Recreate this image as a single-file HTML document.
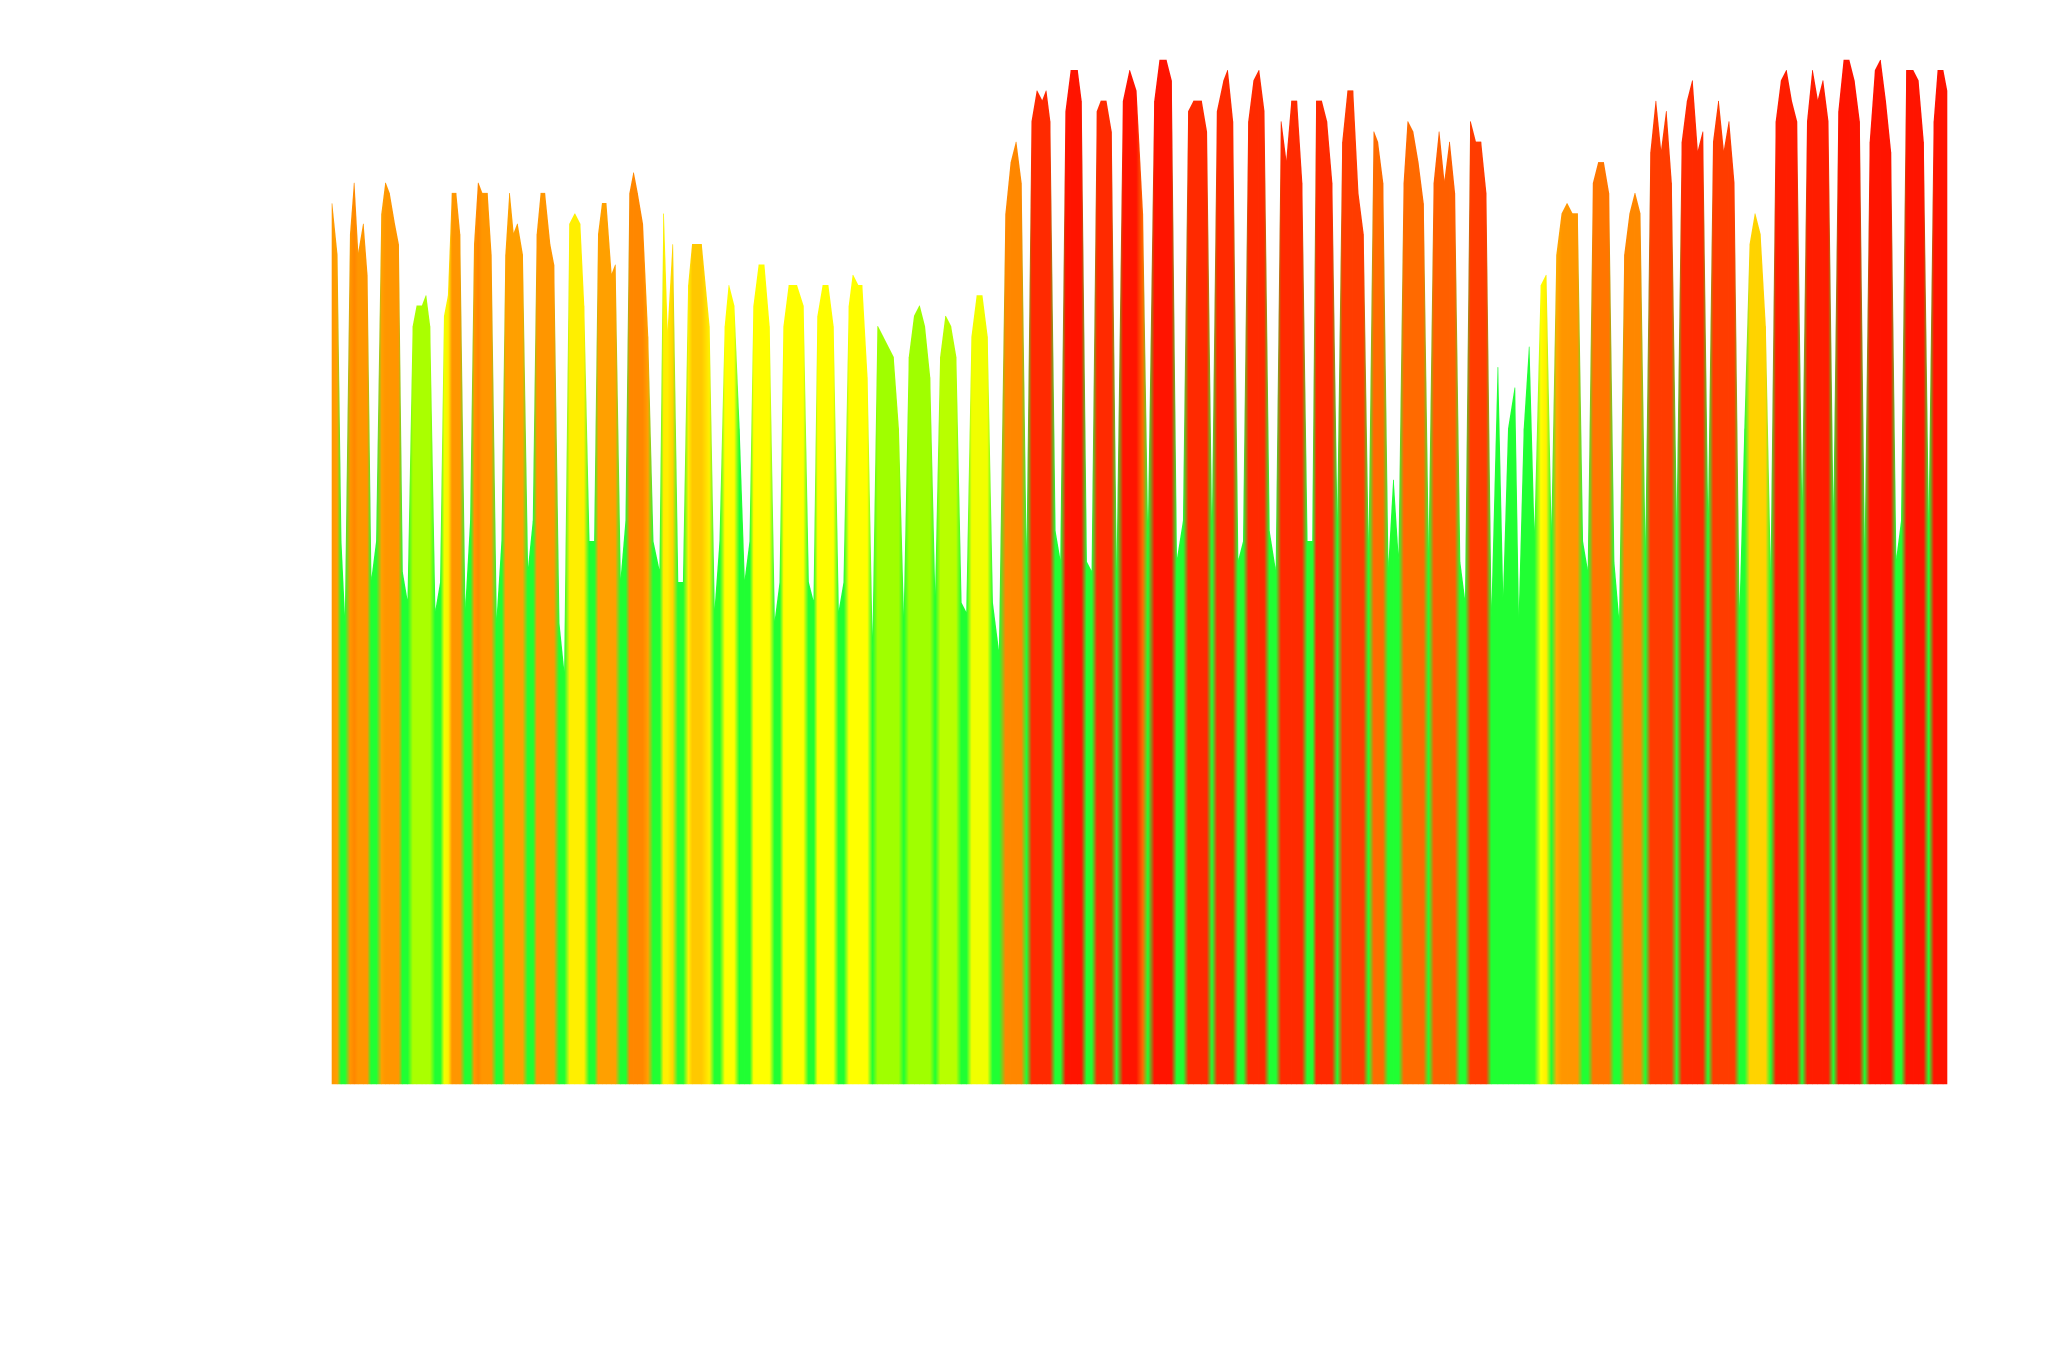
<!DOCTYPE html>
<html><head><meta charset="utf-8"><title>Colored area chart</title>
<style>html,body{margin:0;padding:0;background:#fff}svg{display:block}</style></head>
<body>
<svg id="chart" width="2048" height="1366" viewBox="0 0 2048 1366" xmlns="http://www.w3.org/2000/svg">
<rect x="0" y="0" width="2048" height="1366" fill="#ffffff"/>
<defs id="grads"></defs>
<g id="plot"></g>
</svg>
<script>
const times=[0,4,7,10,14,17,20,24,27,30,34,38,41,44,48,51,54,58,62,65,69,72,75,79,83,86,89,92,95,98,102,106,109,112,115,119,122,126,130,133,136,139,142,146,150,154,157,160,163,167,170,174,178,182,186,190,193,197,201,204,207,210,214,217,221,225,228,231,234,238,242,246,251,254,257,261,265,269,273,276,283,289,293,297,301,304,308,312,316,320,323,327,331,335,339,343,346,350,356,361,365,369,372,376,380,384,388,392,396,399,403,406,410,414,418,422,426,430,434,438,442,446,450,454,458,462,466,470,474,478,482,486,490,494,498,502,506,511,516,520,524,528,532,536,540,544,547,550,554,558,562,566,571,574,578,582,586,589,593,597,601,606,611,616,621,625,630,634,639,643,647,652,656,660,666,670,674,678,683,686,690,694,698,702,706,710,714,718,723,727,731,735,739,743,747,751,754,758,762,766,770,774,778,782,786,790,794,798,801,805,809,813,817,821,824,828,832,836,840,844,848,852,856,860,864,868,872,876,880,884,888,893,897,901,906,909,913,917,921,926,930,934,938,942,946,950,954,958,962,966,970,974,978,982,986,990,994,998,1002,1006,1010,1014,1018,1022,1026,1030,1034,1038,1042,1046,1050,1054,1058,1062,1066,1070,1074,1078,1082,1086,1090,1094,1098,1102,1106,1110,1114,1118,1122,1126,1130,1134,1138,1142,1146,1150,1154,1158,1162,1166,1170,1174,1178,1182,1186,1190,1194,1198,1202,1206,1211,1215,1219,1223,1227,1230,1234,1237];
const values=[86,81,53,45,83,88,81,84,79,49,53,85,88,87,84,82,50,47,74,76,76,77,74,46,49,75,77,87,87,83,46,55,82,88,87,87,81,45,53,81,87,83,84,81,50,55,83,87,87,82,80,45,40,84,85,84,76,53,53,83,86,86,79,80,49,55,87,89,87,84,73,53,50,85,73,82,49,49,78,82,82,74,46,53,74,78,76,64,49,53,76,80,80,74,45,49,74,78,78,76,49,47,75,78,78,74,46,49,76,79,78,78,69,42,74,73,72,71,64,45,71,75,76,74,69,47,71,75,74,71,47,46,73,77,77,73,47,42,85,90,92,88,50,94,97,96,97,94,54,51,95,99,99,96,51,50,95,96,96,93,49,96,99,97,85,53,96,100,100,98,51,55,95,96,96,93,53,95,98,99,94,51,53,94,98,99,95,54,50,94,90,96,96,88,53,53,96,96,94,88,54,92,97,97,87,83,51,93,92,88,50,59,51,88,94,93,90,86,51,88,93,88,92,87,51,47,94,92,92,87,45,70,47,64,68,45,64,72,53,78,79,53,81,85,86,85,85,53,50,88,90,90,87,51,45,81,85,87,85,51,91,96,91,95,88,54,92,96,98,91,93,54,92,96,91,94,88,45,64,82,85,83,74,49,94,98,99,96,94,55,94,99,96,98,94,54,95,100,100,98,94,51,92,99,100,96,91,51,55,99,99,98,92,54,94,99,99,97];
const heat=[72,70,8,8,72,75,72,72,72,8,8,70,72,72,72,72,8,8,40,40,40,40,40,8,8,50,55,72,72,72,8,8,72,75,72,72,72,8,8,70,70,70,70,70,8,8,72,72,72,72,72,8,8,55,55,55,55,8,8,70,70,70,70,70,8,8,75,75,75,75,70,8,8,55,55,60,8,8,55,62,62,55,8,8,52,52,52,8,8,8,52,52,52,52,8,8,52,52,52,52,8,8,52,52,52,52,8,8,52,52,52,52,52,8,38,38,38,38,38,8,38,38,38,38,38,8,42,42,42,42,8,8,50,50,50,50,8,8,75,75,75,75,8,92,92,92,92,92,8,8,97,97,97,97,8,8,92,92,92,92,8,97,97,97,80,8,97,97,97,97,8,8,92,92,92,92,8,92,92,92,92,8,8,92,92,92,92,8,8,92,92,92,92,92,8,8,92,92,92,92,8,88,88,88,88,88,8,80,80,80,8,8,8,80,80,80,80,80,8,82,82,82,82,82,8,8,88,88,88,88,8,8,8,8,8,8,8,8,8,52,55,8,68,72,72,72,72,8,8,78,78,78,78,8,8,75,75,75,75,8,88,88,88,88,88,8,92,92,92,92,92,8,88,88,88,88,88,8,8,60,60,60,60,8,95,95,95,95,95,8,95,95,95,95,95,8,97,97,97,97,97,8,97,97,97,97,97,8,8,97,97,97,97,8,97,97,97,97];

const X0=332,X1=1947,Y0=1084,Y1=60;
const tMin=0,tMax=1237,vMin=0,vMax=100;
function xScale(t){return X0+(t-tMin)/(tMax-tMin)*(X1-X0);}
function yScale(v){return Y0-(v-vMin)/(vMax-vMin)*(Y0-Y1);}
const stops=[[0,[0,255,70]],[30,[120,255,0]],[40,[170,255,0]],[52,[255,255,0]],[62,[255,200,0]],[75,[255,135,0]],[88,[255,60,0]],[97,[255,20,0]],[100,[255,0,0]]];
function colorScale(c){
  for(let i=0;i<stops.length-1;i++){
    const a=stops[i],b=stops[i+1];
    if(c<=b[0]){const f=Math.max(0,(c-a[0])/(b[0]-a[0]));
      const r=a[1].map((q,k)=>Math.round(q+(b[1][k]-q)*f));
      return 'rgb('+r.join(',')+')';}
  }
  return 'rgb(255,0,0)';
}
const NS='http://www.w3.org/2000/svg';
const defs=document.getElementById('grads');
const plot=document.getElementById('plot');
for(let i=0;i<times.length-1;i++){
  const g=document.createElementNS(NS,'linearGradient');
  g.setAttribute('id','g'+i);
  g.setAttribute('x1','0');g.setAttribute('x2','1');g.setAttribute('y1','0');g.setAttribute('y2','0');
  const s1=document.createElementNS(NS,'stop');s1.setAttribute('offset','0');s1.setAttribute('stop-color',colorScale(heat[i]));
  const s2=document.createElementNS(NS,'stop');s2.setAttribute('offset','1');s2.setAttribute('stop-color',colorScale(heat[i+1]));
  g.appendChild(s1);g.appendChild(s2);defs.appendChild(g);
  const xa=xScale(times[i]),xb=xScale(times[i+1]);
  const p=document.createElementNS(NS,'polygon');
  p.setAttribute('points',xa+','+Y0+' '+xa+','+yScale(values[i])+' '+xb+','+yScale(values[i+1])+' '+xb+','+Y0);
  p.setAttribute('fill','url(#g'+i+')');
  p.setAttribute('stroke','url(#g'+i+')');
  p.setAttribute('stroke-width','0.6');
  
  
  plot.appendChild(p);
}
</script>
</body></html>
